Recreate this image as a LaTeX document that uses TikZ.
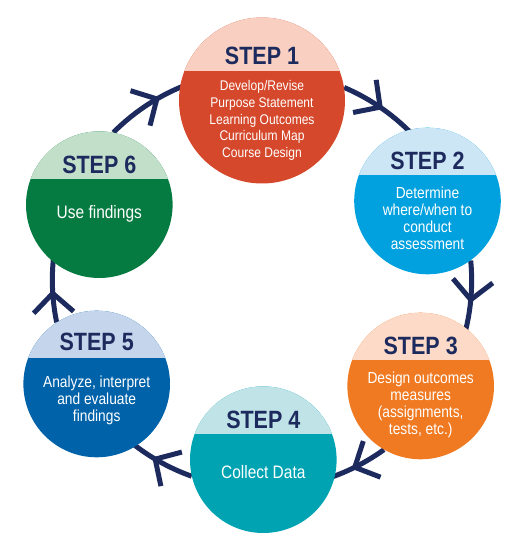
\documentclass[tikz,border=0pt]{standalone}
\usepackage{fontspec}
\usetikzlibrary{arrows.meta,decorations.markings,backgrounds}
\newfontfamily\stepfont{Liberation Sans}[FakeStretch=0.86]
\definecolor{navy}{HTML}{1D2A5D}
\definecolor{c1top}{HTML}{F8CFC0}\definecolor{c1}{HTML}{D5482B}
\definecolor{c2top}{HTML}{CDE6F6}\definecolor{c2}{HTML}{00A1DE}
\definecolor{c3top}{HTML}{FCDAC7}\definecolor{c3}{HTML}{F07A22}
\definecolor{c4top}{HTML}{BFE3E7}\definecolor{c4}{HTML}{00A3B2}
\definecolor{c5top}{HTML}{C4D5EC}\definecolor{c5}{HTML}{0062A9}
\definecolor{c6top}{HTML}{C2DFCA}\definecolor{c6}{HTML}{067B41}
\tikzset{
  stepball/.style n args={3}{circle,inner sep=0,minimum size=#3,fill=#2,
    path picture={\fill[#1] (path picture bounding box.north west)
      rectangle ([yshift=0.175*#3]path picture bounding box.east);}},
  steptitle/.style={text=navy,inner sep=0,font=\stepfont\bfseries\fontsize{25}{25}\selectfont},
  stepbody/.style={text=white,align=center,inner sep=0,font=\stepfont\fontsize{16}{17}\selectfont},
  ring/.style={draw=navy,line width=5,postaction={decorate},
    decoration={markings,mark=at position #1 with {\arrow{Straight Barb[length=19pt,width=40pt]}}}},
  ring/.default=0.55
}
\begin{document}
\begin{tikzpicture}[x=1pt,y=1pt]
  \useasboundingbox (0,0) rectangle (529,550);
  % circles
  \node[stepball={c1top}{c1}{166}] (s1) at (262,449.5) {};
  \node[stepball={c2top}{c2}{146.6}] (s2) at (427.5,349) {};
  \node[stepball={c3top}{c3}{146.6}] (s3) at (420.7,164) {};
  \node[stepball={c4top}{c4}{146.6}] (s4) at (263.3,90.3) {};
  \node[stepball={c5top}{c5}{146.6}] (s5) at (96.7,166) {};
  \node[stepball={c6top}{c6}{146.6}] (s6) at (99.3,345.3) {};
  % titles
  \node[steptitle] (t1) at ([yshift=45]s1.center) {STEP 1};
  \node[steptitle] (t2) at ([yshift=40]s2.center) {STEP 2};
  \node[steptitle] (t3) at ([yshift=40]s3.center) {STEP 3};
  \node[steptitle] (t4) at ([yshift=40]s4.center) {STEP 4};
  \node[steptitle] (t5) at ([yshift=42]s5.center) {STEP 5};
  \node[steptitle] (t6) at ([yshift=40]s6.center) {STEP 6};
  % texts
  \node[stepbody,font=\stepfont\fontsize{14}{16.7}\selectfont] (b1) at ([yshift=-20]s1.center)
    {Develop/Revise\\Purpose Statement\\Learning Outcomes\\Curriculum Map\\Course Design};
  \node[stepbody] (b2) at ([yshift=-17]s2.center) {Determine\\where/when to\\conduct\\assessment};
  \node[stepbody] (b3) at ([yshift=-19]s3.center) {Design outcomes\\measures\\(assignments,\\tests, etc.)};
  \node[stepbody,font=\stepfont\fontsize{18}{18}\selectfont] (b4) at ([yshift=-12]s4.center) {Collect Data};
  \node[stepbody] (b5) at ([yshift=-16]s5.center) {Analyze, interpret\\and evaluate\\findings};
  \node[stepbody,font=\stepfont\fontsize{18}{18}\selectfont] (b6) at ([yshift=-9]s6.center) {Use findings};
  % cycle
  \begin{scope}[on background layer]
    \draw[ring=0.5] (s1.9) arc[start angle=66.9,end angle=42.5,radius=209];
    \draw[ring=0.54] (s2.-54) arc[start angle=5.5,end angle=-16.2,radius=209];
    \draw[ring=0.56] (s3.240) arc[start angle=-54.2,end angle=-72.6,radius=209];
    \draw[ring=0.58] (s4.193) arc[start angle=-109.6,end angle=-130.3,radius=209];
    \draw[ring=0.46] (s5.123) arc[start angle=-168.3,end angle=-187.8,radius=209];
    \draw[ring=0.64] (s6.79) arc[start angle=-224.8,end angle=-249.9,radius=209];
  \end{scope}
\end{tikzpicture}
\end{document}
